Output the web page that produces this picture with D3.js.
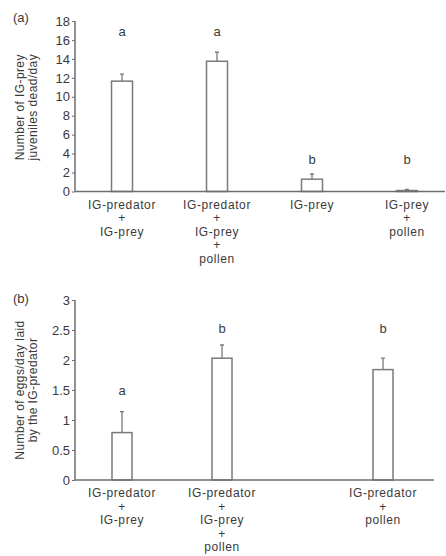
<!DOCTYPE html>
<html>
<head>
<meta charset="utf-8">
<script src="https://cdn.jsdelivr.net/npm/d3@7/dist/d3.min.js"></script>
<style>
  html, body { margin: 0; padding: 0; background: #fff; }
  svg { display: block; }
  text { font-family: "Liberation Sans", Arial, sans-serif; fill: #3a3a3a; }
</style>
</head>
<body>
<svg id="chart" width="446" height="556"></svg>
<script>
// Panel (a): IG-prey juveniles killed per day
const categoriesA = [
  ["IG-predator", "+", "IG-prey"],
  ["IG-predator", "+", "IG-prey", "+", "pollen"],
  ["IG-prey"],
  ["IG-prey", "+", "pollen"]
];
const meansA = [11.65, 13.75, 1.3, 0.1];
const errorsA = [0.75, 0.95, 0.55, 0.12];
const lettersA = ["a", "a", "b", "b"];
const letterLevelA = [16.9, 16.9, 3.4, 3.4];
const ticksA = [0, 2, 4, 6, 8, 10, 12, 14, 16, 18];

// Panel (b): eggs laid per day by the IG-predator
const categoriesB = [
  ["IG-predator", "+", "IG-prey"],
  ["IG-predator", "+", "IG-prey", "+", "pollen"],
  ["IG-predator", "+", "pollen"]
];
const meansB = [0.79, 2.03, 1.84];
const errorsB = [0.35, 0.22, 0.19];
const lettersB = ["a", "b", "b"];
const letterLevelB = [1.5, 2.53, 2.53];
const ticksB = [0, 0.5, 1, 1.5, 2, 2.5, 3];

const svg = d3.select("#chart");
const lineColor = "#6e6e6e";
const barColor = "#7a7a7a";

function drawPanel(cfg) {
  const g = svg.append("g");
  const ids = cfg.categories.map((_, i) => i);
  const y = d3.scaleLinear().domain([0, cfg.yMax]).range([cfg.y0, cfg.y1]);
  const x = cfg.xScale.domain(ids);

  // y axis
  const axis = d3.axisLeft(y).tickValues(cfg.ticks).tickSize(3).tickPadding(2)
    .tickFormat(d3.format("~g"));
  const ag = g.append("g").attr("transform", `translate(${cfg.axisX},0)`).call(axis);
  ag.select(".domain").attr("stroke", lineColor).attr("stroke-width", 1.5).attr("d", `M0,${cfg.y0}V${cfg.y1}`);
  ag.selectAll(".tick line").attr("stroke", lineColor).attr("stroke-width", 1);
  ag.selectAll(".tick text").attr("font-size", 13).style("font-family", "'Liberation Sans', Arial, sans-serif").attr("fill", "#3a3a3a");

  // bars
  g.selectAll("rect.bar").data(ids).join("rect")
    .attr("class", "bar")
    .attr("x", i => x(i) - cfg.barW / 2)
    .attr("width", cfg.barW)
    .attr("y", i => y(cfg.means[i]))
    .attr("height", i => y(0) - y(cfg.means[i]))
    .attr("fill", "#fff")
    .attr("stroke", barColor)
    .attr("stroke-width", 1.5);

  // error bars (upper side only)
  g.selectAll("path.err").data(ids).join("path")
    .attr("class", "err")
    .attr("d", i => {
      const cx = x(i), top = y(cfg.means[i] + cfg.errors[i]), base = y(cfg.means[i]);
      return `M${cx},${base}V${top}M${cx - 2},${top}H${cx + 2}`;
    })
    .attr("fill", "none")
    .attr("stroke", barColor)
    .attr("stroke-width", 1.3);

  // x axis baseline
  g.append("line")
    .attr("x1", cfg.axisX).attr("x2", cfg.xEnd)
    .attr("y1", y(0)).attr("y2", y(0))
    .attr("stroke", lineColor).attr("stroke-width", 1.5);

  // significance letters
  g.selectAll("text.letter").data(ids).join("text")
    .attr("class", "letter")
    .attr("x", i => x(i))
    .attr("y", i => y(cfg.letterLevel[i]))
    .attr("dy", "0.35em")
    .attr("text-anchor", "middle")
    .attr("font-size", 13)
    .text(i => cfg.letters[i]);

  // category labels, one text element per line
  ids.forEach(i => {
    cfg.categories[i].forEach((line, k) => {
      g.append("text")
        .attr("text-anchor", "middle")
        .attr("font-size", 12)
        .attr("letter-spacing", 0.6)
        .attr("x", x(i))
        .attr("y", y(0) + cfg.labelOffset + k * cfg.lineH)
        .text(line);
    });
  });

  // y axis title
  const ty = (cfg.y0 + cfg.y1) / 2 + cfg.titleShift;
  cfg.title.forEach((line, k) => {
    g.append("text")
      .attr("transform", `translate(${24 + k * 12.5},${ty}) rotate(-90)`)
      .attr("text-anchor", "middle")
      .attr("font-size", 12)
      .attr("letter-spacing", 0.4)
      .text(line);
  });

  // panel tag
  g.append("text")
    .attr("x", 13).attr("y", cfg.tagY)
    .attr("dy", "0.35em")
    .attr("font-size", 13)
    .text(cfg.tag);
}

drawPanel({
  categories: categoriesA,
  means: meansA, errors: errorsA,
  letters: lettersA, letterLevel: letterLevelA,
  ticks: ticksA, yMax: 18,
  y0: 191.5, y1: 21,
  axisX: 75, xEnd: 445,
  xScale: d3.scalePoint().range([122, 407]),
  barW: 21,
  labelOffset: 17.5, lineH: 13.4,
  title: ["Number of IG-prey", "juveniles dead/day"],
  titleShift: 1,
  tag: "(a)", tagY: 17
});

drawPanel({
  categories: categoriesB,
  means: meansB, errors: errorsB,
  letters: lettersB, letterLevel: letterLevelB,
  ticks: ticksB, yMax: 3,
  y0: 480, y1: 300,
  axisX: 75, xEnd: 434,
  xScale: d3.scaleOrdinal().range([122, 222, 383]),
  barW: 20,
  labelOffset: 17, lineH: 13.5,
  title: ["Number of eggs/day laid", "by the IG-predator"],
  titleShift: 0,
  tag: "(b)", tagY: 298
});
</script>
</body>
</html>
